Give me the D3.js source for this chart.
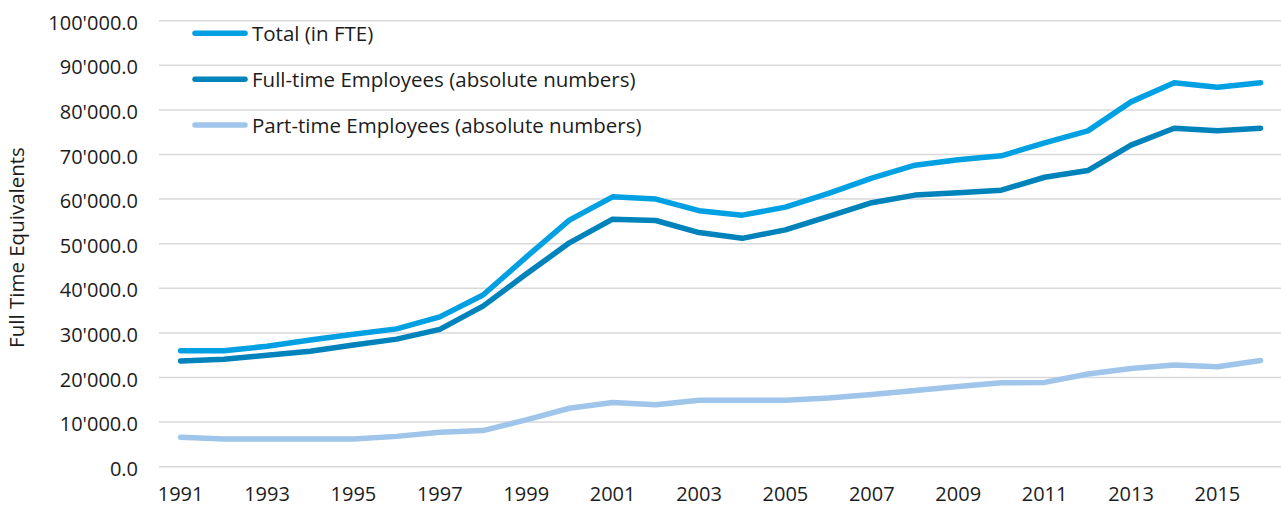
<!DOCTYPE html>
<html>
<head>
<meta charset="utf-8">
<script src="https://cdn.jsdelivr.net/npm/d3@7"></script>
<style>
  html, body { margin: 0; padding: 0; background: #fff; }
  svg { display: block; font-family: "Open Sans", Lato, sans-serif; }
</style>
</head>
<body>
<div id="chart"></div>
<script>
// Values
const years = [1991, 1992, 1993, 1994, 1995, 1996, 1997, 1998, 1999, 2000,
               2001, 2002, 2003, 2004, 2005, 2006, 2007, 2008, 2009, 2010,
               2011, 2012, 2013, 2014, 2015, 2016];

const totalFTE = [26000, 26000, 27000, 28400, 29700, 30900, 33600, 38500, 47000, 55300,
                  60500, 60000, 57400, 56400, 58200, 61300, 64700, 67600, 68800, 69700,
                  72600, 75300, 81800, 86100, 85100, 86100];

const fullTime = [23700, 24100, 25000, 25900, 27300, 28600, 30800, 36000, 43200, 50200,
                  55500, 55200, 52500, 51200, 53100, 56100, 59200, 60900, 61400, 62000,
                  64900, 66400, 72100, 75900, 75300, 75900];

const partTime = [6600, 6200, 6200, 6200, 6200, 6800, 7700, 8100, 10500, 13100,
                  14400, 13900, 14900, 14900, 14900, 15400, 16200, 17100, 18000, 18800,
                  18900, 20800, 22000, 22800, 22400, 23800];

const yTicks = [0, 10000, 20000, 30000, 40000, 50000, 60000, 70000, 80000, 90000, 100000];
const xTickYears = years.filter((d, i) => i % 2 === 0);

const seriesNames = ["Total (in FTE)",
                     "Full-time Employees (absolute numbers)",
                     "Part-time Employees (absolute numbers)"];
const seriesColours = ["#00a0e3", "#0083bb", "#9fc5ea"];

const width  = 1281;
const height = 507;
const plotLeft = 159;
const step = 43.2;
const tickFont = "20px";
const textFont = "20.5px";

const svg = d3.select("#chart")
  .append("svg")
  .attr("width", width)
  .attr("height", height);

const x = d3.scaleBand()
  .domain(years)
  .range([plotLeft, plotLeft + step * years.length]);

const y = d3.scaleLinear()
  .domain([0, 100000])
  .range([466.7, 20.7]);

const fmt = v => d3.format(",.1f")(v).replace(/,/g, "'");

// gridlines
svg.append("g")
  .selectAll("line")
  .data(yTicks)
  .join("line")
    .attr("x1", plotLeft)
    .attr("x2", width)
    .attr("y1", d => y(d))
    .attr("y2", d => y(d))
    .attr("stroke", "#d9d9d9")
    .attr("stroke-width", 1.5);

// y axis labels
const yAxis = svg.append("g")
  .attr("transform", `translate(${plotLeft - 21},0)`)
  .call(d3.axisLeft(y).tickValues(yTicks).tickFormat(fmt).tickSize(0).tickPadding(0));
yAxis.select(".domain").remove();
yAxis.selectAll("text")
  .attr("dy", "0.43em")
  .style("font-family", "'Open Sans', Lato, sans-serif")
  .style("font-size", tickFont)
  .attr("fill", "#1c1c1c");

// x axis labels
const xAxis = svg.append("g")
  .attr("transform", `translate(0,${y(0)})`)
  .call(d3.axisBottom(x).tickValues(xTickYears).tickSize(0).tickPadding(20));
xAxis.select(".domain").remove();
xAxis.selectAll("text")
  .style("font-family", "'Open Sans', Lato, sans-serif")
  .style("font-size", tickFont)
  .attr("fill", "#1c1c1c");

// y axis title
svg.append("text")
  .attr("transform", `translate(24,247.5) rotate(-90)`)
  .attr("text-anchor", "middle")
  .style("font-size", textFont)
  .attr("fill", "#1c1c1c")
  .text("Full Time Equivalents");

// lines
const line = d3.line()
  .x((d, i) => x(years[i]) + x.bandwidth() / 2)
  .y(d => y(d));

const allSeries = [totalFTE, fullTime, partTime];

svg.append("g")
  .selectAll("path")
  .data(allSeries.slice().reverse())
  .join("path")
    .attr("d", line)
    .attr("fill", "none")
    .attr("stroke", (d, i) => seriesColours[2 - i])
    .attr("stroke-width", 5.5)
    .attr("stroke-linejoin", "round")
    .attr("stroke-linecap", "round");

// legend
const legend = svg.append("g")
  .selectAll("g")
  .data(seriesNames)
  .join("g")
    .attr("transform", (d, i) => `translate(0,${33.3 + i * 45.9})`);

legend.append("line")
  .attr("x1", 195)
  .attr("x2", 245)
  .attr("stroke", (d, i) => seriesColours[i])
  .attr("stroke-width", 5.5)
  .attr("stroke-linecap", "round");

legend.append("text")
  .attr("x", 252)
  .attr("dy", "0.38em")
  .style("font-size", textFont)
  .attr("fill", "#1c1c1c")
  .text(d => d);
</script>
</body>
</html>
